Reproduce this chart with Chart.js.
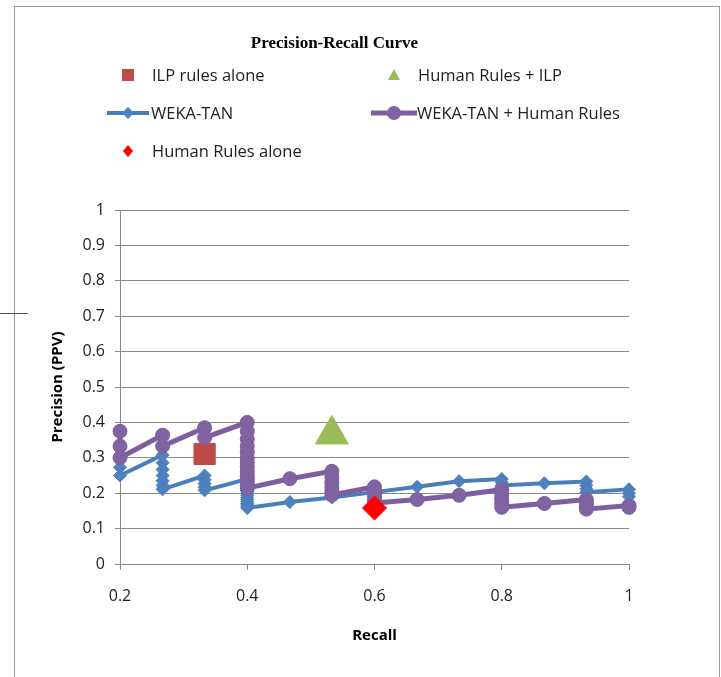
<!DOCTYPE html>
<html>
<head>
<meta charset="utf-8">
<title>Precision-Recall Curve</title>
<script src="https://cdn.jsdelivr.net/npm/chart.js@4"></script>
<style>
  html, body { margin: 0; padding: 0; background: #fff; }
  body { width: 721px; height: 677px; position: relative; overflow: hidden; font-family: "Open Sans", sans-serif; }
  #frame { position: absolute; left: 14px; top: 6px; width: 704px; height: 700px; border: 1px solid #9a9a9a; }
  #stray { position: absolute; left: 0; top: 313px; width: 28px; height: 1px; background: #555; }
  #wrap { position: absolute; left: 0; top: 0; width: 721px; height: 677px; }
  #legend { position: absolute; left: 0; top: 0; }
  .leg-item { position: absolute; height: 20px; }
  .leg-item svg { position: absolute; left: 0; top: 0; }
  .leg-item span { position: absolute; top: 0; font-size: 16.5px; line-height: 20px; color: #222; white-space: nowrap; }
</style>
</head>
<body>
<div id="frame"></div>
<div id="stray"></div>
<div id="wrap"><canvas id="chart" width="721" height="677"></canvas></div>
<div id="legend"></div>
<script>
// --- data ---
const ilpRecall = [0.333];
const ilpPrecision = [0.311];

const humanIlpRecall = [0.533];
const humanIlpPrecision = [0.366];

const humanRecall = [0.6];
const humanPrecision = [0.158];

const tanRecall = [
    0.2, 0.2,
    0.267, 0.267, 0.267, 0.267, 0.267, 0.267, 0.267,
    0.333, 0.333, 0.333, 0.333, 0.333,
    0.4, 0.4, 0.4, 0.4, 0.4, 0.4, 0.4, 0.4, 0.4, 0.4, 0.4, 0.4, 0.4, 0.4,
    0.467, 0.533, 0.6, 0.667, 0.733,
    0.8, 0.8, 0.8,
    0.867,
    0.933, 0.933, 0.933, 0.933,
    1, 1, 1
];
const tanPrecision = [
    0.273, 0.25,
    0.308, 0.286, 0.267, 0.25, 0.235, 0.222, 0.211,
    0.25, 0.238, 0.227, 0.217, 0.208,
    0.24, 0.231, 0.222, 0.214, 0.207, 0.2, 0.194, 0.188, 0.182, 0.176, 0.171, 0.167, 0.162, 0.158,
    0.175, 0.188, 0.203, 0.218, 0.234,
    0.24, 0.231, 0.222,
    0.228,
    0.233, 0.222, 0.212, 0.203,
    0.211, 0.2, 0.19
];

const tanHumanRecall = [
    0.2, 0.2, 0.2,
    0.267, 0.267,
    0.333, 0.333,
    0.4, 0.4, 0.4, 0.4, 0.4, 0.4, 0.4, 0.4, 0.4, 0.4, 0.4, 0.4, 0.4, 0.4,
    0.467,
    0.533, 0.533, 0.533, 0.533, 0.533, 0.533,
    0.6, 0.6, 0.6, 0.6, 0.6,
    0.667, 0.733,
    0.8, 0.8, 0.8, 0.8, 0.8,
    0.867,
    0.933, 0.933, 0.933, 0.933,
    1, 1
];
const tanHumanPrecision = [
    0.375, 0.333, 0.3,
    0.364, 0.333,
    0.385, 0.357,
    0.4, 0.375, 0.353, 0.333, 0.316, 0.3, 0.286, 0.273, 0.261, 0.25, 0.24, 0.231, 0.222, 0.214,
    0.241,
    0.262, 0.245, 0.23, 0.216, 0.205, 0.195,
    0.218, 0.205, 0.193, 0.182, 0.172,
    0.182, 0.194,
    0.21, 0.196, 0.183, 0.171, 0.16,
    0.171,
    0.182, 0.172, 0.163, 0.155,
    0.165, 0.16
];

const recallTicks = [0.2, 0.4, 0.6, 0.8, 1];
const precisionTicks = [0, 0.1, 0.2, 0.3, 0.4, 0.5, 0.6, 0.7, 0.8, 0.9, 1];

function toPoints(xs, ys) {
    return xs.map((x, i) => ({ x: x, y: ys[i] }));
}

const gridColor = '#8a8a8a';
const tickFont = { family: 'Open Sans', size: 16 };
const axisTitleFont = { family: 'Open Sans', size: 15, weight: 'bold' };

const datasets = [
    {
        label: 'ILP rules alone',
        data: toPoints(ilpRecall, ilpPrecision),
        pointStyle: 'rect',
        pointRadius: 15,
        backgroundColor: '#BE4B48',
        borderColor: '#BE4B48',
        showLine: false,
        order: 4,
        legend: { col: 0, row: 0, icon: 'rect' }
    },
    {
        label: 'Human Rules + ILP',
        data: toPoints(humanIlpRecall, humanIlpPrecision),
        pointStyle: 'triangle',
        pointRadius: 19,
        backgroundColor: '#9BBB59',
        borderColor: '#9BBB59',
        showLine: false,
        order: 3,
        legend: { col: 1, row: 0, icon: 'triangle' }
    },
    {
        label: 'WEKA-TAN',
        data: toPoints(tanRecall, tanPrecision),
        pointStyle: 'rectRot',
        pointRadius: 6.5,
        backgroundColor: '#4F81BD',
        borderColor: '#4A7EBB',
        borderWidth: 4,
        pointBorderWidth: 1,
        showLine: true,
        order: 2,
        legend: { col: 0, row: 1, icon: 'lineDiamond' }
    },
    {
        label: 'WEKA-TAN + Human Rules',
        data: toPoints(tanHumanRecall, tanHumanPrecision),
        pointStyle: 'circle',
        pointRadius: 7,
        backgroundColor: '#8064A2',
        borderColor: '#7D5FA0',
        borderWidth: 5,
        pointBorderWidth: 1,
        showLine: true,
        order: 1,
        legend: { col: 1, row: 1, icon: 'lineCircle' }
    },
    {
        label: 'Human Rules alone',
        data: toPoints(humanRecall, humanPrecision),
        pointStyle: 'rectRot',
        pointRadius: 12,
        backgroundColor: '#FF0000',
        borderColor: '#FF0000',
        showLine: false,
        order: 0,
        legend: { col: 0, row: 2, icon: 'diamond' }
    }
];

datasets.forEach(d => { d.clip = false; d.tension = 0; });

new Chart(document.getElementById('chart'), {
    type: 'scatter',
    data: { datasets: datasets },
    options: {
        responsive: false,
        animation: false,
        events: [],
        layout: { padding: { left: 40, right: 92, top: 0, bottom: 18 } },
        plugins: {
            legend: { display: false },
            tooltip: { enabled: false },
            title: {
                display: true,
                text: 'Precision-Recall Curve',
                color: '#000',
                font: { family: 'Liberation Serif', size: 17, weight: 'bold', lineHeight: 1.2 },
                padding: { top: 33, bottom: 156.6 }
            }
        },
        scales: {
            x: {
                type: 'linear',
                min: 0.2,
                max: 1,
                afterFit: s => { s.height = 95; },
                afterBuildTicks: s => { s.ticks = recallTicks.map(v => ({ value: v })); },
                ticks: {
                    color: '#222',
                    font: tickFont,
                    padding: 17,
                    maxRotation: 0,
                    callback: v => String(v)
                },
                grid: { drawOnChartArea: false, drawTicks: true, tickLength: 6, color: gridColor },
                border: { color: gridColor, width: 1 },
                title: { display: true, text: 'Recall', color: '#000', font: axisTitleFont, padding: { top: 0, bottom: 14 } }
            },
            y: {
                type: 'linear',
                min: 0,
                max: 1,
                afterFit: s => { s.width = 80; },
                afterBuildTicks: s => { s.ticks = precisionTicks.map(v => ({ value: v })); },
                ticks: {
                    color: '#222',
                    font: tickFont,
                    padding: 10,
                    callback: v => String(v)
                },
                grid: { drawTicks: true, tickLength: 5, color: gridColor, lineWidth: 1 },
                border: { color: gridColor, width: 1 },
                title: { display: true, text: 'Precision (PPV)', color: '#000', font: axisTitleFont, padding: { top: 9, bottom: 9 } }
            }
        }
    }
});

// --- HTML legend built from the datasets (two columns, three rows) ---
const legendColX = [128, 394];
const legendRowY = [75, 113, 151];

function iconSvg(d) {
    const c = 23, m = 10;
    let body = '';
    const kind = d.legend.icon;
    if (kind === 'rect') {
        body = `<rect x="${c - 6}" y="${m - 6}" width="12" height="12" fill="${d.backgroundColor}"/>`;
    } else if (kind === 'triangle') {
        body = `<polygon points="${c},${m - 6} ${c + 6},${m + 5} ${c - 6},${m + 5}" fill="${d.backgroundColor}"/>`;
    } else if (kind === 'diamond') {
        body = `<polygon points="${c},${m - 6} ${c + 5},${m} ${c},${m + 6} ${c - 5},${m}" fill="${d.backgroundColor}"/>`;
    } else if (kind === 'lineDiamond') {
        body = `<line x1="2" y1="${m}" x2="44" y2="${m}" stroke="${d.borderColor}" stroke-width="${d.borderWidth}"/>` +
               `<polygon points="${c},${m - 6} ${c + 6},${m} ${c},${m + 6} ${c - 6},${m}" fill="${d.backgroundColor}"/>`;
    } else if (kind === 'lineCircle') {
        body = `<line x1="0" y1="${m}" x2="46" y2="${m}" stroke="${d.borderColor}" stroke-width="${d.borderWidth}"/>` +
               `<circle cx="${c}" cy="${m}" r="7" fill="${d.backgroundColor}"/>`;
    }
    return `<svg width="46" height="20" viewBox="0 0 46 20">${body}</svg>`;
}

const legendEl = document.getElementById('legend');
datasets.forEach(d => {
    const cx = legendColX[d.legend.col];
    const cy = legendRowY[d.legend.row];
    const item = document.createElement('div');
    item.className = 'leg-item';
    item.style.left = (cx - 23) + 'px';
    item.style.top = (cy - 10) + 'px';
    item.innerHTML = iconSvg(d) + `<span style="left:${d.legend.icon.startsWith('line') ? 46 : 47}px">${d.label}</span>`;
    legendEl.appendChild(item);
});
</script>
</body>
</html>
